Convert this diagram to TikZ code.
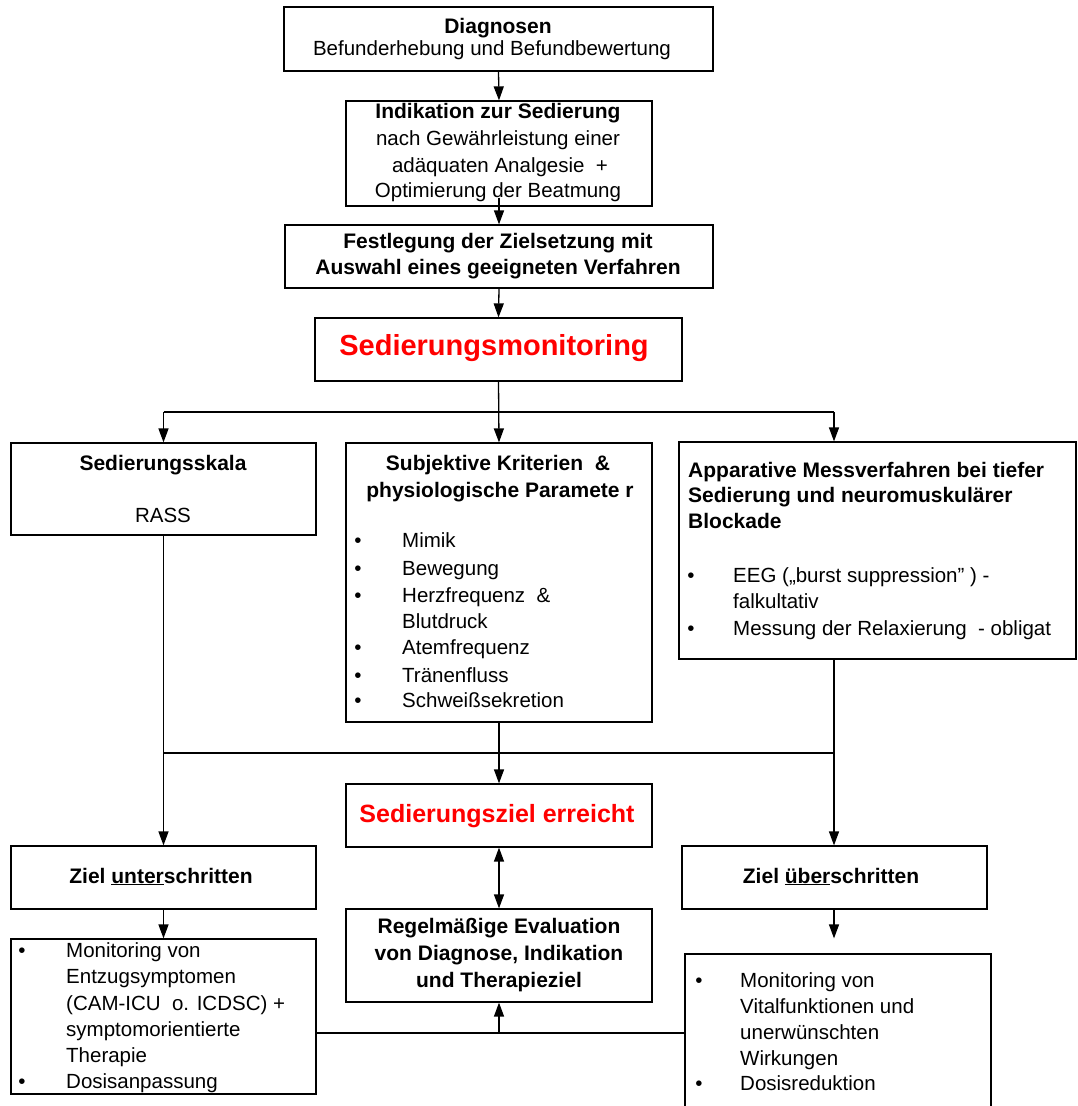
\documentclass[tikz,border=0pt]{standalone}
\usepackage{fontspec}
\setmainfont{Liberation Sans}
\usetikzlibrary{arrows.meta,fit,calc}
\begin{document}
\begin{tikzpicture}[x=1pt,y=-1pt,
  box/.style={draw, line width=1.2pt, inner sep=0pt},
  lbl/.style={anchor=base, inner sep=0pt, font=\fontsize{20.5}{24}\selectfont},
  lblb/.style={anchor=base, inner sep=0pt, font=\fontsize{21}{24}\selectfont\bfseries},
  lw/.style={lbl, anchor=base west},
  lwb/.style={lblb, anchor=base west},
  dot/.style={lbl, anchor=base},
  hot/.style={anchor=base, inner sep=0pt, text=red},
  flow/.style={line width=1.3pt, -{Triangle[length=14pt,width=10pt]}},
  both/.style={line width=1.3pt, {Triangle[length=14pt,width=10pt]}-{Triangle[length=14pt,width=10pt]}},
  link/.style={line width=1.3pt}
]
\clip (0,0) rectangle (1078,1106);
\fill[white] (0,0) rectangle (1078,1106);

% ---------- boxes ----------
\node[box, fit={(284,7)(713,71)}] (b1) {};
\node[box, fit={(346,101)(652,206)}] (b2) {};
\node[box, fit={(285,225)(713,288)}] (b3) {};
\node[box, fit={(315,318)(682,381)}] (b4) {};
\node[box, fit={(11,443)(316,535)}] (s1) {};
\node[box, fit={(346,443)(652,722)}] (s2) {};
\node[box, fit={(679,442)(1076,659)}] (s3) {};
\node[box, fit={(346,784)(652,847)}] (z) {};
\node[box, fit={(11,846)(316,909)}] (u) {};
\node[box, fit={(682,846)(987,909)}] (o) {};
\node[box, fit={(346,909)(652,1002)}] (e) {};
\node[box, fit={(11,939)(316,1094)}] (ul) {};
\node[box, fit={(685,954)(991,1125)}] (ol) {};

% ---------- texts ----------
\node[lblb] (t1a) at (498,33) {Diagnosen};
\node[lbl]  (t1b) at (492,55) {Befunderhebung und Befundbewertung};

\node[lblb] (t2a) at (498,118) {Indikation zur Sedierung};
\node[lbl]  (t2b) at (498,145) {nach Gewährleistung einer};
\node[lbl]  (t2c) at (500,172) {adäquaten Analgesie \ +};
\node[lbl]  (t2d) at (498,197) {Optimierung der Beatmung};

\node[lblb] (t3a) at (498,248) {Festlegung der Zielsetzung mit};
\node[lblb] (t3b) at (498,274) {Auswahl eines geeigneten Verfahren};

\node[hot, font=\fontsize{29}{32}\selectfont\bfseries] (t4) at (494,355) {Sedierungsmonitoring};

\node[lblb] (s1a) at (163,470) {Sedierungsskala};
\node[lbl]  (s1b) at (163,522) {RASS};

\node[lblb] (s2a) at (498,470) {Subjektive Kriterien \ \&};
\node[lblb] (s2b) at (500,497) {physiologische Paramete r};
\node[dot] (s2d1) at (358,547) {•};
\node[lw]  (s2l1) at (402,547) {Mimik};
\node[dot] (s2d2) at (358,575) {•};
\node[lw]  (s2l2) at (402,575) {Bewegung};
\node[dot] (s2d3) at (358,602) {•};
\node[lw]  (s2l3) at (402,602) {Herzfrequenz \ \&};
\node[lw]  (s2l4) at (402,628) {Blutdruck};
\node[dot] (s2d5) at (358,654) {•};
\node[lw]  (s2l5) at (402,654) {Atemfrequenz};
\node[dot] (s2d6) at (358,682) {•};
\node[lw]  (s2l6) at (402,682) {Tränenfluss};
\node[dot] (s2d7) at (358,707) {•};
\node[lw]  (s2l7) at (402,707) {Schweißsekretion};

\node[lwb] (s3a) at (688,477) {Apparative Messverfahren bei tiefer};
\node[lwb] (s3b) at (688,502) {Sedierung und neuromuskulärer};
\node[lwb] (s3c) at (688,528) {Blockade};
\node[dot] (s3d1) at (691,582) {•};
\node[lw]  (s3l1) at (733,582) {EEG („burst suppression" ) -};
\node[lw]  (s3l2) at (733,608) {falkultativ};
\node[dot] (s3d3) at (691,635) {•};
\node[lw]  (s3l3) at (733,635) {Messung der Relaxierung \ - obligat};

\node[hot, font=\fontsize{25}{28}\selectfont\bfseries] (tz) at (497,822) {Sedierungsziel erreicht};

\node[lblb] (tu) at (161,883) {Ziel \underline{unter}schritten};
\node[lblb] (to) at (831,883) {Ziel \underline{über}schritten};

\node[lblb] (te1) at (499,933) {Regelmäßige Evaluation};
\node[lblb] (te2) at (499,960) {von Diagnose, Indikation};
\node[lblb] (te3) at (499,987) {und Therapieziel};

\node[dot] (uld1) at (22,957) {•};
\node[lw]  (ull1) at (66,957) {Monitoring von};
\node[lw]  (ull2) at (66,983) {Entzugsymptomen};
\node[lw]  (ull3) at (66,1010) {(CAM-ICU \ o. ICDSC) +};
\node[lw]  (ull4) at (66,1036) {symptomorientierte};
\node[lw]  (ull5) at (66,1062) {Therapie};
\node[dot] (uld6) at (22,1088) {•};
\node[lw]  (ull6) at (66,1088) {Dosisanpassung};

\node[dot] (old1) at (699,987) {•};
\node[lw]  (oll1) at (740,987) {Monitoring von};
\node[lw]  (oll2) at (740,1013) {Vitalfunktionen und};
\node[lw]  (oll3) at (740,1039) {unerwünschten};
\node[lw]  (oll4) at (740,1065) {Wirkungen};
\node[dot] (old5) at (699,1090) {•};
\node[lw]  (oll5) at (740,1090) {Dosisreduktion};

% ---------- connectors ----------
\coordinate (split) at (499,412);
\coordinate (rt) at (834,412);
\coordinate (merge) at (499,753);
\coordinate (mrt) at (834,753);
\coordinate (fb) at (499,1033);

\draw[flow] (b1.south) -- (b2.north);
\draw[flow] ([yshift=9pt]b2.south) -- (b3.north);
\draw[flow] (b3.south) -- (b4.north);
\draw[flow] (b4.south) -- (s2.north);
\draw[link] (s1.north |- split) -- (rt);
\draw[flow] (s1.north |- split) -- (s1.north);
\draw[flow] (rt) -- (rt |- s3.north);

\draw[flow] (s1.south) -- (u.north);
\draw[flow] (rt |- s3.south) -- (rt |- o.north);
\draw[link] (s1.south |- merge) -- (mrt);
\draw[flow] (s2.south) -- (z.north);
\draw[both] (z.south) -- (e.north);

\draw[flow] (u.south) -- (ul.north);
\draw[flow] (rt |- o.south) -- ($(rt |- ol.north)+(0,-15)$);
\draw[link] (ul.east |- fb) -- (ol.west |- fb);
\draw[flow] (fb) -- (e.south);
\end{tikzpicture}
\end{document}
